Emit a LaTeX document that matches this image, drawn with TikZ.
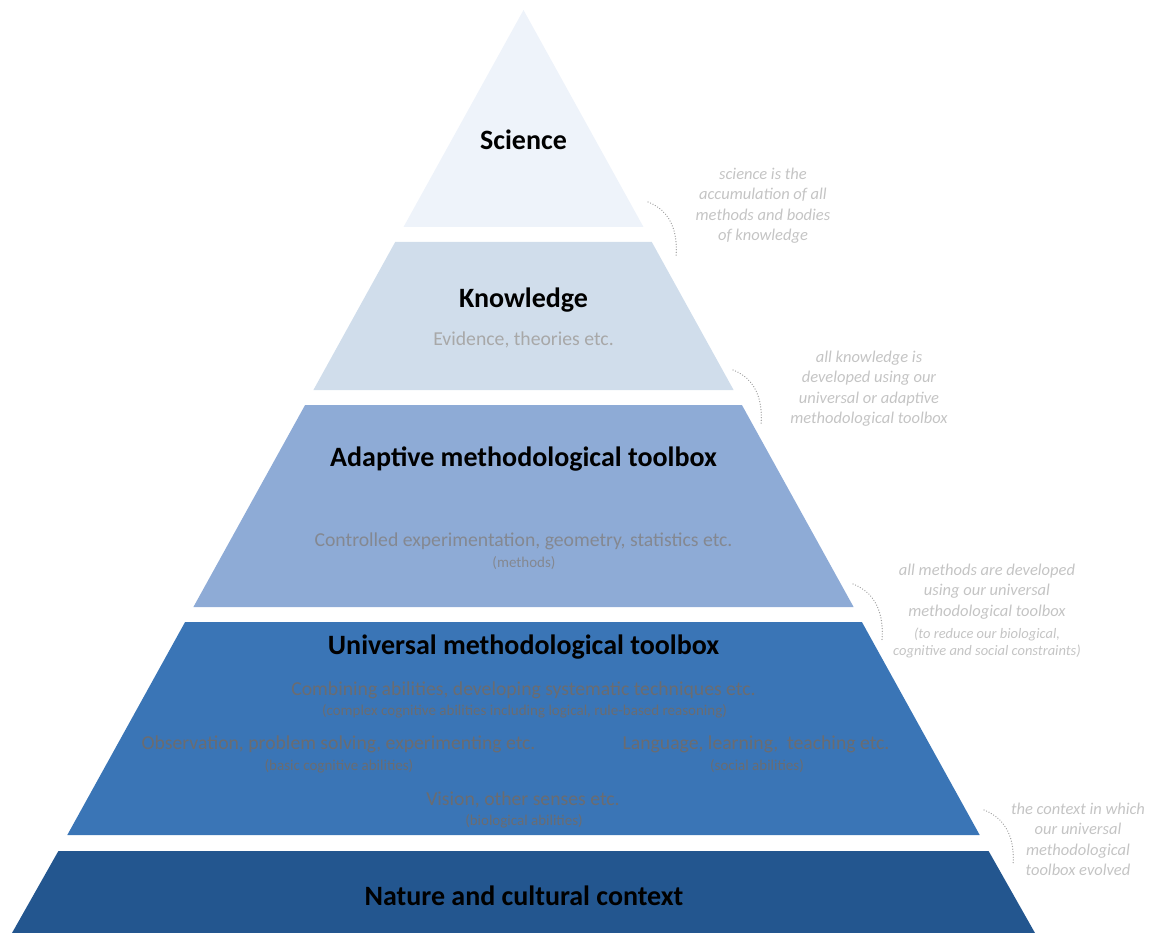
\documentclass[tikz,border=0pt]{standalone}
\usepackage{fontspec}
\setmainfont{Carlito}
\definecolor{cSci}{HTML}{EEF3FA}
\definecolor{cKnow}{HTML}{D0DDEB}
\definecolor{cAdapt}{HTML}{8EABD6}
\definecolor{cUni}{HTML}{3A75B6}
\definecolor{cNat}{HTML}{23568F}
\definecolor{gKnow}{HTML}{A8A8A8}
\definecolor{gAdapt}{HTML}{848891}
\definecolor{gUni}{HTML}{6B6C70}
\definecolor{gNote}{HTML}{C4C4C4}
\definecolor{gDots}{HTML}{A0A0A0}
\tikzset{
  layer/.style={draw=none},
  title/.style={font=\fontsize{28}{32}\selectfont\bfseries, text=black, inner sep=0pt},
  body/.style={font=\fontsize{19.7}{22}\selectfont, inner sep=0pt},
  small/.style={font=\fontsize{15}{18}\selectfont, inner sep=0pt},
  note/.style={font=\fontsize{16.5}{20.3}\selectfont\itshape, text=gNote, align=center, inner sep=0pt},
  notesmall/.style={font=\fontsize{14.5}{17}\selectfont\itshape, text=gNote, align=center, inner sep=0pt},
  arcdots/.style={draw=gDots, line width=1.3pt, dash pattern=on 0.1pt off 2.6pt, line cap=round}
}
\begin{document}
\begin{tikzpicture}[x=1pt,y=-1pt]
\useasboundingbox (0,0) rectangle (1154,933);
% layers
\fill[cSci]   (523.5,10) -- (643.5,227) -- (403.5,227) -- cycle;
\fill[cKnow]  (395.2,242) -- (651.8,242) -- (733.6,390) -- (313.4,390) -- cycle;
\fill[cAdapt] (305.1,405) -- (741.9,405) -- (853.6,607) -- (193.4,607) -- cycle;
\fill[cUni]   (185.1,622) -- (861.9,622) -- (979.7,835) -- (67.3,835) -- cycle;
\fill[cNat]   (58.4,851) -- (988.6,851) -- (1035,933) -- (12,933) -- cycle;
% titles
\node[title] (sci) at (523.5,140) {Science};
\node[title] (know) at (523.5,300) {Knowledge};
\node[body, text=gKnow] (knowb) at (523.5,340) {Evidence, theories etc.};
\node[title] (adapt) at (523.5,459) {Adaptive methodological toolbox};
\node[body, text=gAdapt] (adaptb) at (523.5,541) {Controlled experimentation, geometry, statistics etc.};
\node[small, text=gAdapt] (adapts) at (524,563) {(methods)};
\node[title] (uni) at (523.5,647) {Universal methodological toolbox};
\node[body, text=gUni] (comb) at (523.5,690) {Combining abilities, developing systematic techniques etc.};
\node[small, text=gUni] (combs) at (524.5,711) {(complex cognitive abilities including logical, rule-based reasoning)};
\node[body, text=gUni] (obs) at (338.5,744) {Observation, problem solving, experimenting etc.};
\node[small, text=gUni] (obss) at (339,766) {(basic cognitive abilities)};
\node[body, text=gUni] (lang) at (756,744) {Language, learning,\ \ teaching etc.};
\node[small, text=gUni] (langs) at (757,766) {(social abilities)};
\node[body, text=gUni] (vis) at (523,800) {Vision, other senses etc.};
\node[small, text=gUni] (viss) at (524,821) {(biological abilities)};
\node[title] (nat) at (524,896) {Nature and cultural context};
% annotations
\node[note, anchor=north] (n1) at (763,168) {science is the\\accumulation of all\\methods and bodies\\of knowledge};
\node[note, anchor=north] (n2) at (869,351) {all knowledge is\\developed using our\\universal or adaptive\\methodological toolbox};
\node[note, anchor=north] (n3) at (987,564) {all methods are developed\\using our universal\\methodological toolbox};
\node[notesmall, anchor=north] (n3b) at (987,628) {(to reduce our biological,\\cognitive and social constraints)};
\node[note, anchor=north] (n4) at (1078,803) {the context in which\\our universal\\methodological\\toolbox evolved};
% dotted arcs
\draw[arcdots] (648,202) .. controls (671,211) and (678,232) .. (676,257);
\draw[arcdots] (733,370) .. controls (756,379) and (763,400) .. (761,425);
\draw[arcdots] (853,584) .. controls (876,593) and (884,614) .. (882,640);
\draw[arcdots] (984,810) .. controls (1007,819) and (1015,840) .. (1013,865);
\end{tikzpicture}
\end{document}
